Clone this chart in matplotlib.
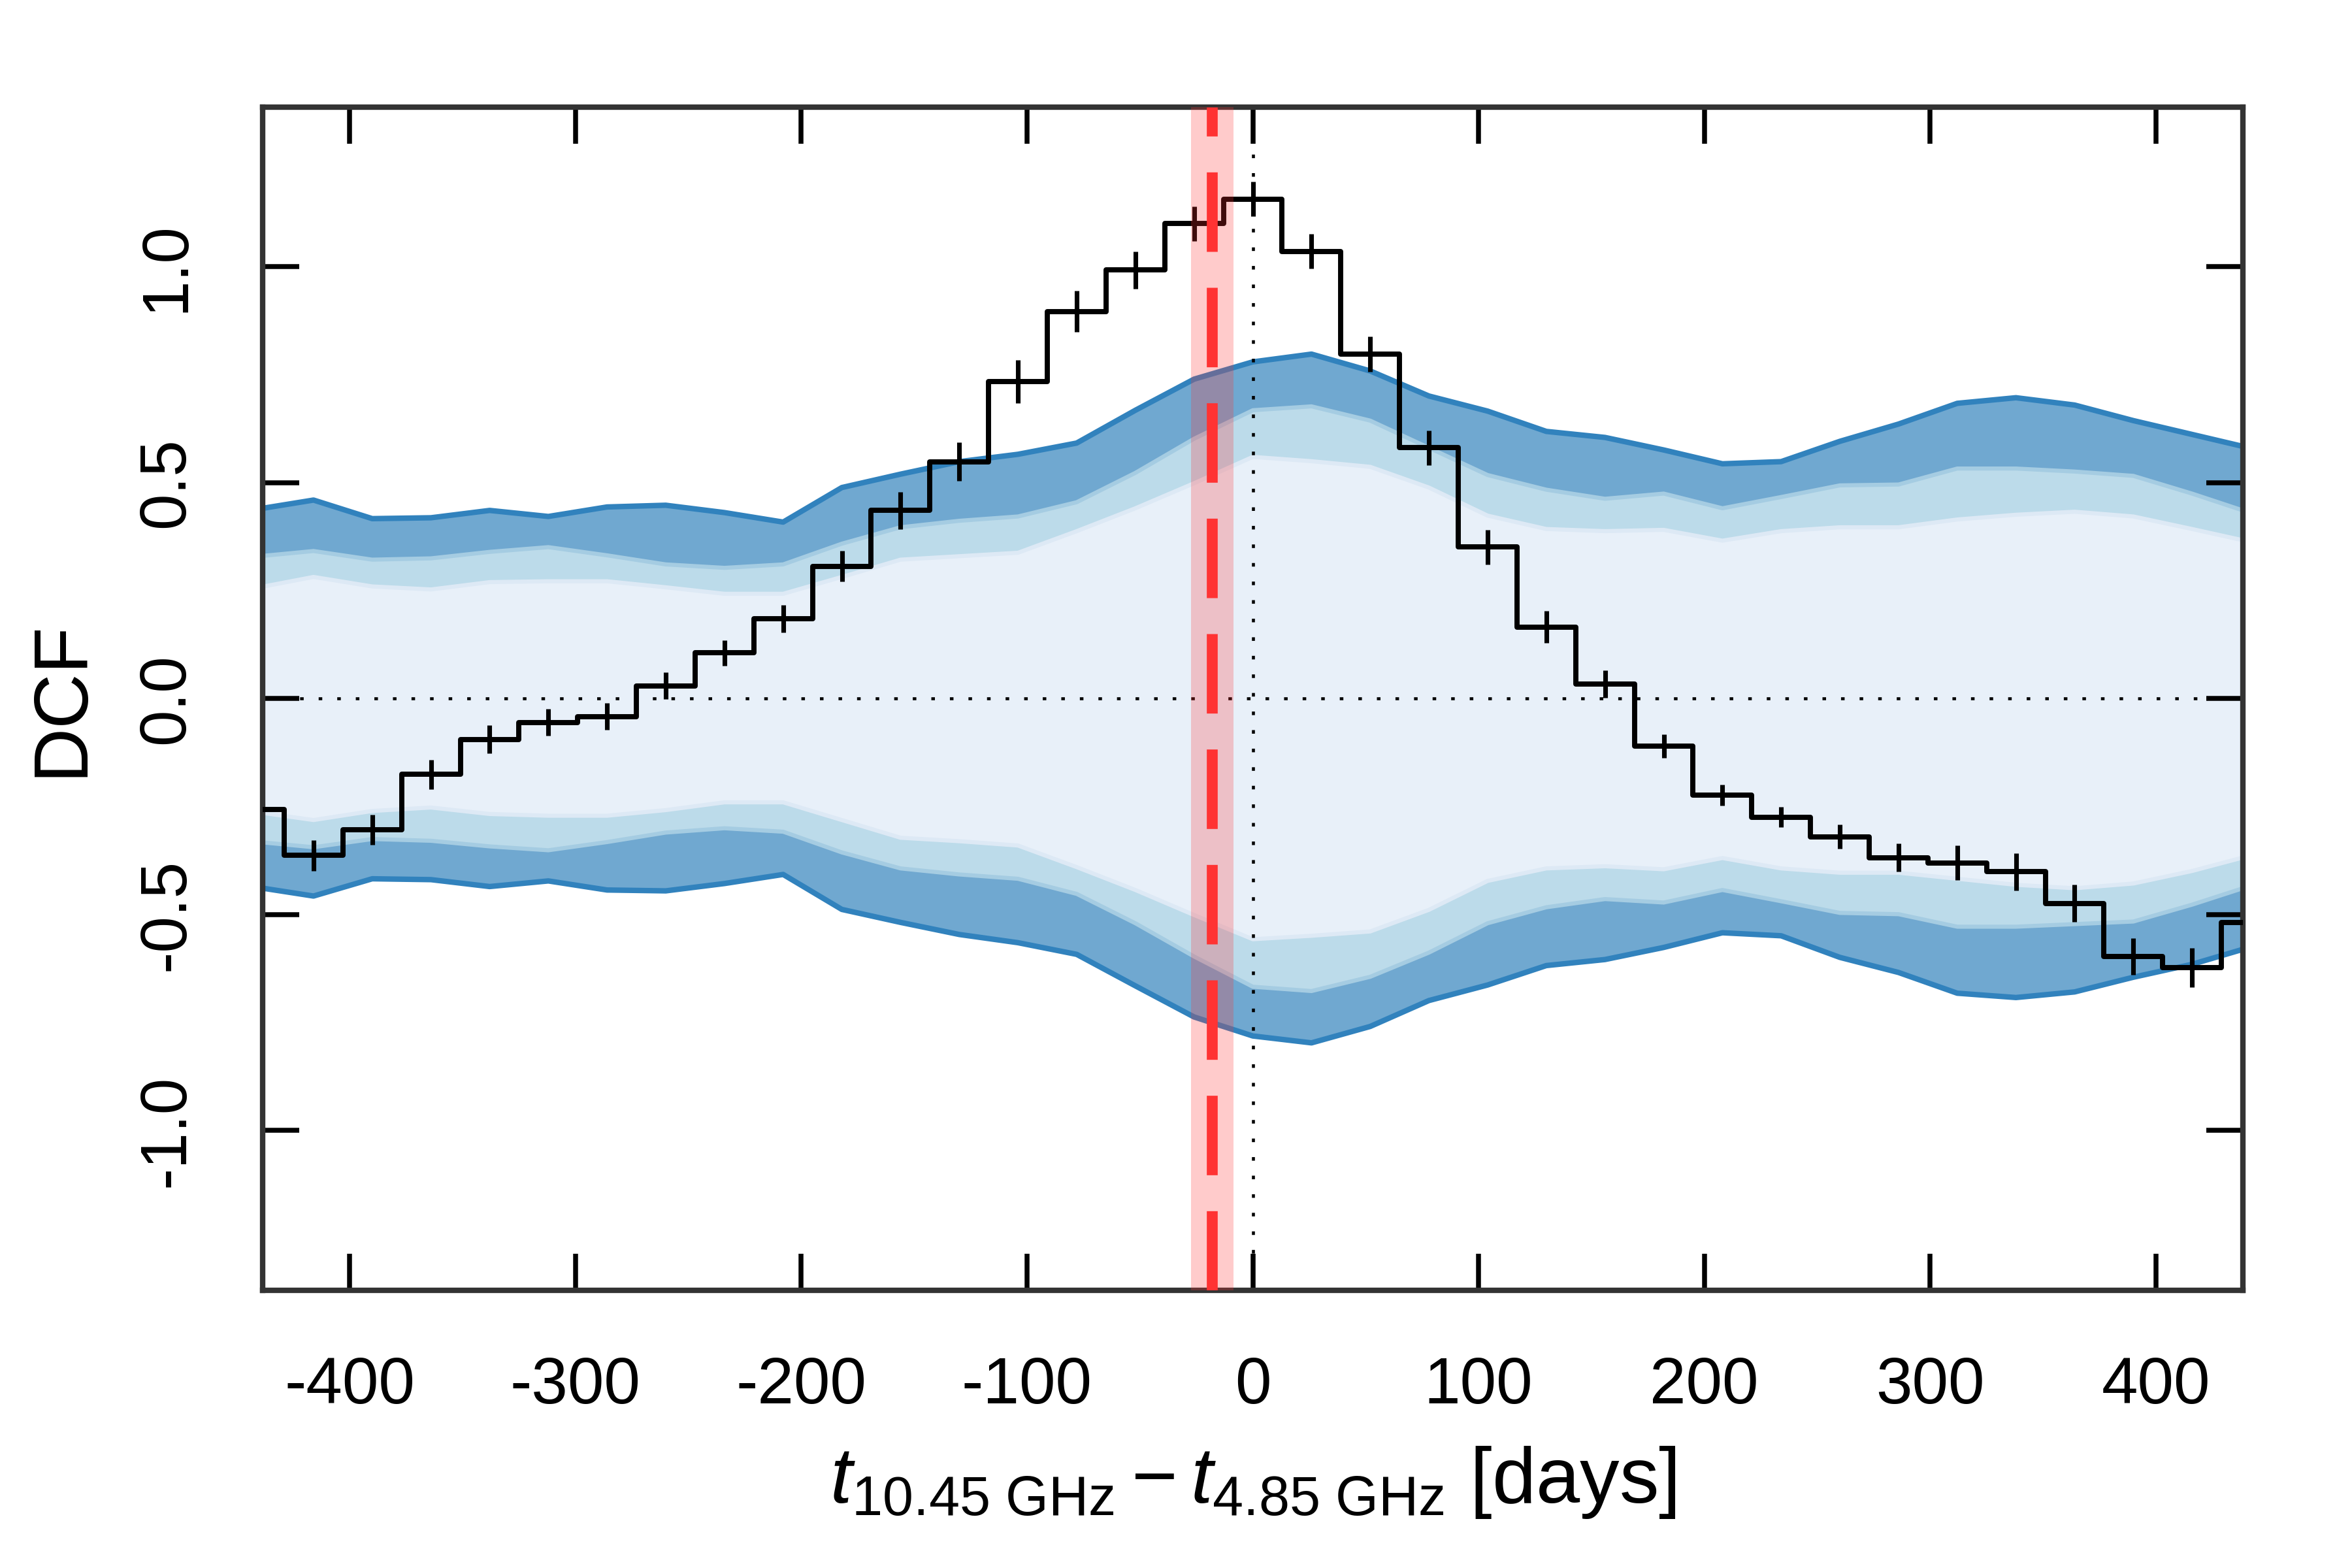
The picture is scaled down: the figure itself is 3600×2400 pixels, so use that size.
import matplotlib
matplotlib.use('Agg')
import matplotlib.pyplot as plt
import numpy as np

plt.rcParams['font.family'] = ['Liberation Sans', 'DejaVu Sans']
plt.rcParams['mathtext.fontset'] = 'custom'
plt.rcParams['mathtext.rm'] = 'Liberation Sans'
plt.rcParams['mathtext.it'] = 'Liberation Sans:italic'
plt.rcParams['axes.unicode_minus'] = False

# time lags (bin centres) in days
lags = [-442, -416, -390, -364, -338, -312, -286, -260, -234, -208, -182, -156,
        -130, -104, -78, -52, -26, 0, 26, 52, 78, 104, 130, 156, 182, 208, 234,
        260, 286, 312, 338, 364, 390, 416, 442]

dcf = [-0.257, -0.363, -0.303, -0.175, -0.094, -0.055, -0.041, 0.030, 0.106,
       0.185, 0.307, 0.436, 0.549, 0.735, 0.897, 0.993, 1.100, 1.157, 1.036,
       0.798, 0.581, 0.351, 0.166, 0.034, -0.110, -0.223, -0.274, -0.320,
       -0.368, -0.380, -0.401, -0.474, -0.597, -0.623, -0.518]
dcf_err = [0.037, 0.036, 0.035, 0.034, 0.032, 0.031, 0.031, 0.031, 0.030, 0.032,
           0.035, 0.043, 0.045, 0.050, 0.048, 0.043, 0.040, 0.040, 0.040, 0.041,
           0.040, 0.040, 0.037, 0.032, 0.027, 0.024, 0.024, 0.028, 0.033, 0.040,
           0.043, 0.043, 0.043, 0.045, 0.045]

# significance bands from simulations
hi99 = [0.438, 0.460, 0.417, 0.419, 0.436, 0.422, 0.444, 0.448, 0.431, 0.409,
        0.489, 0.520, 0.549, 0.566, 0.592, 0.668, 0.740, 0.780, 0.798, 0.759,
        0.701, 0.666, 0.619, 0.605, 0.576, 0.544, 0.549, 0.596, 0.636, 0.684,
        0.697, 0.680, 0.644, 0.612, 0.580]
lo99 = [-0.436, -0.457, -0.417, -0.419, -0.435, -0.422, -0.443, -0.445, -0.428,
        -0.407, -0.488, -0.518, -0.546, -0.565, -0.592, -0.665, -0.737, -0.781,
        -0.797, -0.759, -0.699, -0.663, -0.618, -0.604, -0.576, -0.542, -0.549,
        -0.599, -0.634, -0.682, -0.692, -0.679, -0.645, -0.615, -0.575]
hi95 = [0.329, 0.342, 0.322, 0.325, 0.340, 0.351, 0.332, 0.311, 0.303, 0.311,
        0.359, 0.397, 0.412, 0.422, 0.455, 0.523, 0.602, 0.668, 0.677, 0.644,
        0.581, 0.518, 0.484, 0.463, 0.475, 0.441, 0.467, 0.494, 0.496, 0.533,
        0.533, 0.526, 0.516, 0.475, 0.430]
lo95 = [-0.331, -0.344, -0.325, -0.329, -0.342, -0.351, -0.332, -0.310, -0.300,
        -0.308, -0.356, -0.393, -0.407, -0.417, -0.452, -0.520, -0.597, -0.667,
        -0.677, -0.644, -0.588, -0.520, -0.483, -0.464, -0.472, -0.443, -0.469,
        -0.496, -0.499, -0.528, -0.528, -0.522, -0.516, -0.477, -0.433]
hi68 = [0.256, 0.282, 0.260, 0.253, 0.270, 0.272, 0.272, 0.258, 0.243, 0.243,
        0.282, 0.322, 0.330, 0.338, 0.388, 0.441, 0.499, 0.560, 0.550, 0.537,
        0.489, 0.424, 0.393, 0.388, 0.391, 0.366, 0.388, 0.397, 0.397, 0.415,
        0.426, 0.433, 0.422, 0.393, 0.363]
lo68 = [-0.262, -0.281, -0.260, -0.252, -0.267, -0.271, -0.271, -0.258, -0.240,
        -0.240, -0.281, -0.322, -0.330, -0.340, -0.390, -0.443, -0.501, -0.557,
        -0.549, -0.539, -0.489, -0.422, -0.393, -0.388, -0.395, -0.369, -0.393,
        -0.403, -0.403, -0.417, -0.431, -0.439, -0.428, -0.399, -0.363]

# fitted lag
lag_peak = -18.0
lag_err = 9.5

fig = plt.figure(figsize=(12, 8), dpi=300)
ax = fig.add_axes([0.1117, 0.1771, 0.8419, 0.7546])

bands = [(lo99, hi99, '#70a8d0', '#3182bd', 2.0),
         (lo95, hi95, '#bcdbea', '#a5cce2', 1.5),
         (lo68, hi68, '#e8f0f9', '#dde9f5', 1.5)]
for lo, hi, fc, ec, lw in bands:
    ax.fill_between(lags, lo, hi, facecolor=fc, edgecolor='none', zorder=1)
    ax.plot(lags, hi, color=ec, lw=lw, zorder=1.5)
    ax.plot(lags, lo, color=ec, lw=lw, zorder=1.5)

ax.axhline(0, color='black', lw=1.1, ls=(0, (1.2, 5.0)), zorder=2)
ax.axvline(0, color='black', lw=1.1, ls=(0, (1.2, 5.0)), zorder=2)

ax.plot(lags, dcf, drawstyle='steps-mid', color='black', lw=1.9,
        solid_joinstyle='round', zorder=3)
ax.errorbar(lags, dcf, yerr=dcf_err, fmt='none', ecolor='black',
            elinewidth=1.7, capsize=0, zorder=3)

ax.axvspan(lag_peak - lag_err, lag_peak + lag_err, color='#ff3333', alpha=0.25,
           lw=0, zorder=4)
ax.axvline(lag_peak, color='#ff3333', lw=4.0, ls=(0, (7.3, 3.3)), zorder=5)

ax.set_xlim(-438.5, 438.5)
ax.set_ylim(-1.37, 1.37)
ax.set_xticks([-400, -300, -200, -100, 0, 100, 200, 300, 400])
ax.set_yticks([-1.0, -0.5, 0.0, 0.5, 1.0])
ax.set_yticklabels(['-1.0', '-0.5', '0.0', '0.5', '1.0'], rotation=90, va='center')
ax.tick_params(direction='in', length=13.5, width=1.8, top=True, right=True,
               labelsize=24, pad=24, color='black')
for s in ax.spines.values():
    s.set_linewidth(2.0)
    s.set_color('#333333')

ax.set_xlabel(r'$t_{\mathrm{10.45\ GHz}} - t_{\mathrm{4.85\ GHz}}$ [days]', fontsize=29,
              labelpad=10)
ax.set_ylabel('DCF', fontsize=28, labelpad=14)

fig.savefig('out.png', dpi=300)
